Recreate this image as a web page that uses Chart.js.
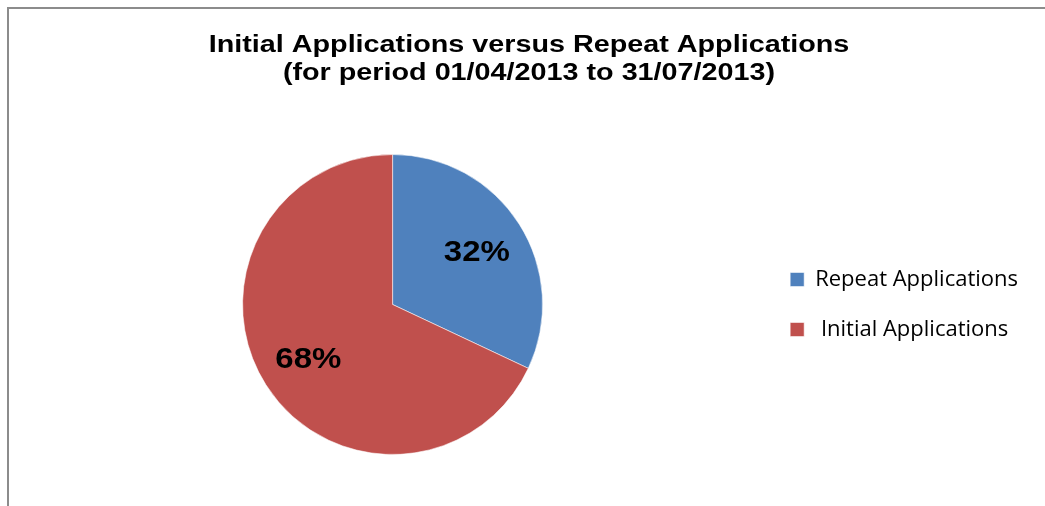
<!DOCTYPE html>
<html>
<head>
<meta charset="utf-8">
<script src="https://cdn.jsdelivr.net/npm/chart.js@4/dist/chart.umd.min.js"></script>
<style>
  html, body { margin: 0; padding: 0; background: #ffffff; overflow: hidden; }
  #frame {
    position: absolute; left: 7px; top: 7px; width: 1200px; height: 700px;
    border-left: 2px solid #8c8c8c; border-top: 2px solid #8c8c8c;
    box-sizing: border-box;
  }
  #wrap { position: absolute; left: 0; top: 0; width: 1045px; height: 506px; }
</style>
</head>
<body>
<div id="frame"></div>
<div id="wrap"><canvas id="pie" width="1045" height="506"></canvas></div>
<script>
// Application counts by type, as shares of all applications (per cent)
const categories = ['Repeat Applications', ' Initial Applications'];
const shares = [32, 68];
const titleLines = [
  'Initial Applications versus Repeat Applications',
  '(for period 01/04/2013 to 31/07/2013)'
];

// Wide bold heading drawn above the pie
const wideTitle = {
  id: 'wideTitle',
  afterDraw(chart, args, opts) {
    const ctx = chart.ctx;
    ctx.save();
    ctx.font = opts.font;
    ctx.fillStyle = opts.color;
    ctx.textAlign = 'center';
    ctx.textBaseline = 'alphabetic';
    opts.lines.forEach((line, i) => {
      ctx.save();
      ctx.translate(opts.x, opts.baseline + i * opts.lineGap);
      ctx.scale(opts.stretch, 1);
      ctx.fillText(line, 0, 0);
      ctx.restore();
    });
    ctx.restore();
  }
};

// Percentage written inside each slice
const sliceShare = {
  id: 'sliceShare',
  afterDatasetsDraw(chart, args, opts) {
    const ctx = chart.ctx;
    const meta = chart.getDatasetMeta(0);
    const values = chart.data.datasets[0].data;
    const total = values.reduce((a, b) => a + b, 0);
    ctx.save();
    ctx.font = opts.font;
    ctx.fillStyle = opts.color;
    ctx.textAlign = 'center';
    ctx.textBaseline = 'middle';
    meta.data.forEach((arc, i) => {
      const p = arc.getProps(['x', 'y', 'startAngle', 'endAngle', 'outerRadius'], true);
      const mid = (p.startAngle + p.endAngle) / 2;
      const r = p.outerRadius * opts.radial;
      ctx.save();
      ctx.translate(p.x + Math.cos(mid) * r, p.y + Math.sin(mid) * r + opts.dy);
      ctx.scale(opts.stretch, 1);
      ctx.fillText(Math.round(values[i] / total * 100) + '%', 0, 0);
      ctx.restore();
    });
    ctx.restore();
  }
};

new Chart(document.getElementById('pie'), {
  type: 'pie',
  data: {
    labels: categories,
    datasets: [{
      data: shares,
      backgroundColor: ['#4F81BD', '#C0504D'],
      borderColor: 'rgba(255,255,255,0.55)',
      borderWidth: 1
    }]
  },
  options: {
    responsive: false,
    maintainAspectRatio: false,
    devicePixelRatio: 1,
    animation: false,
    events: [],
    layout: { padding: { top: 154, bottom: 51, left: 23, right: 17 } },
    plugins: {
      title: { display: false },
      tooltip: { enabled: false },
      legend: {
        display: true,
        position: 'right',
        align: 'center',
        labels: {
          boxWidth: 14,
          boxHeight: 14,
          padding: 28,
          color: '#000000',
          font: { family: '"Open Sans"', size: 22 }
        }
      },
      wideTitle: {
        lines: titleLines,
        font: 'bold 23px "Liberation Sans", Arial, sans-serif',
        color: '#000000',
        x: 529,
        baseline: 51.5,
        lineGap: 28.5,
        stretch: 1.25
      },
      sliceShare: {
        font: 'bold 30px "Liberation Sans", Arial, sans-serif',
        color: '#000000',
        radial: 0.665,
        stretch: 1.1,
        dy: 1.5
      }
    }
  },
  plugins: [wideTitle, sliceShare]
});
</script>
</body>
</html>
